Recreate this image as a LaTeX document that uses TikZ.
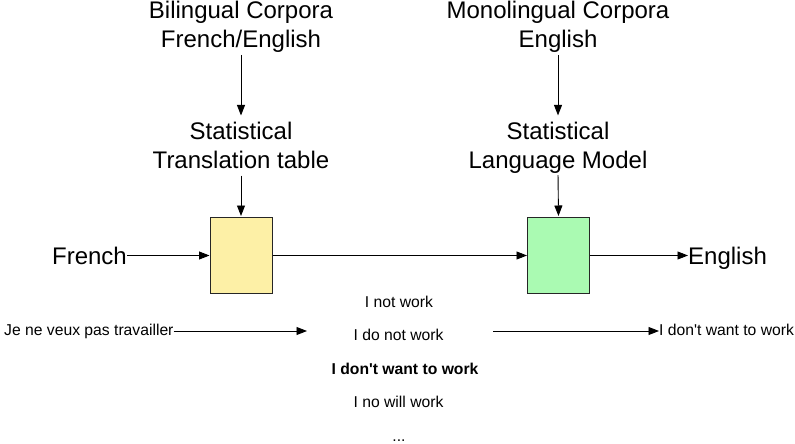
\documentclass[tikz,border=0pt]{standalone}
\usepackage{fontspec}
% keep apostrophes straight
\setmainfont{Liberation Sans}[Ligatures=TeXOff]
\usetikzlibrary{arrows.meta}
\definecolor{tableyellow}{HTML}{FDF0A6}
\definecolor{modelgreen}{HTML}{AAFAB2}
\tikzset{
  big/.style={inner sep=0pt, font=\fontsize{24}{29}\selectfont, align=center},
  small/.style={inner sep=0pt, font=\fontsize{15.7}{19}\selectfont},
  stagebox/.style={draw=black!85, line width=1pt, minimum width=62pt, minimum height=76pt, inner sep=0pt},
  flow/.style={line width=0.9pt, -{Triangle[length=10.5pt,width=8pt]}}
}
\begin{document}
\begin{tikzpicture}[x=1pt,y=-1pt]
\useasboundingbox (0,0) rectangle (795,444);

% corpora and the models built from them
\node[big] (bil) at (241,27) {Bilingual Corpora\\French/English};
\node[big] (mono) at (558,27) {Monolingual Corpora\\English};
\node[big] (stt) at (241,145) {Statistical\\Translation table};
\node[big] (slm) at (558,147.3) {Statistical\\Language Model};

% the two stages of the pipeline
\node[stagebox, fill=tableyellow] (tm) at (241,255.5) {};
\node[stagebox, fill=modelgreen] (lm) at (558.5,255.5) {};

\node[big, anchor=base east] (fr) at (127,264) {French};
\node[big, anchor=base west] (en) at (688,264) {English};

\draw[flow, shorten <=2pt, shorten >=6pt] (bil.south) -- (stt.north);
\draw[flow, shorten <=2pt, shorten >=6pt] (mono.south) -- (slm.north);
\draw[flow, shorten <=7pt, shorten >=1pt] (stt.south) -- (tm.north);
\draw[flow, shorten <=2pt, shorten >=1pt] (slm.south) -- (lm.north);

\draw[flow] (fr.east |- tm.west) -- (tm.west);
\draw[flow] (tm.east) -- (lm.west);
\draw[flow] (lm.east) -- (lm.east -| en.west);

% worked example
\node[small, anchor=base west] (src) at (4,335) {Je ne veux pas travailler};
\node[small, anchor=base] (c1) at (399,307) {I not work};
\node[small, anchor=base] (c2) at (398.5,340) {I do not work};
\node[small, anchor=base, font=\fontsize{15.7}{19}\selectfont\bfseries] (c3) at (405,374) {I don't want to work};
\node[small, anchor=base] (c4) at (398.5,407) {I no will work};
\node[small, anchor=base] (c5) at (399,441) {...};
\node[small, anchor=base west] (out) at (659,335) {I don't want to work};

\coordinate (candin) at (307,331);
\coordinate (candout) at (493,331);
\draw[flow] (src.east |- candin) -- (candin);
\draw[flow] (candout) -- (candout -| out.west);
\end{tikzpicture}
\end{document}
